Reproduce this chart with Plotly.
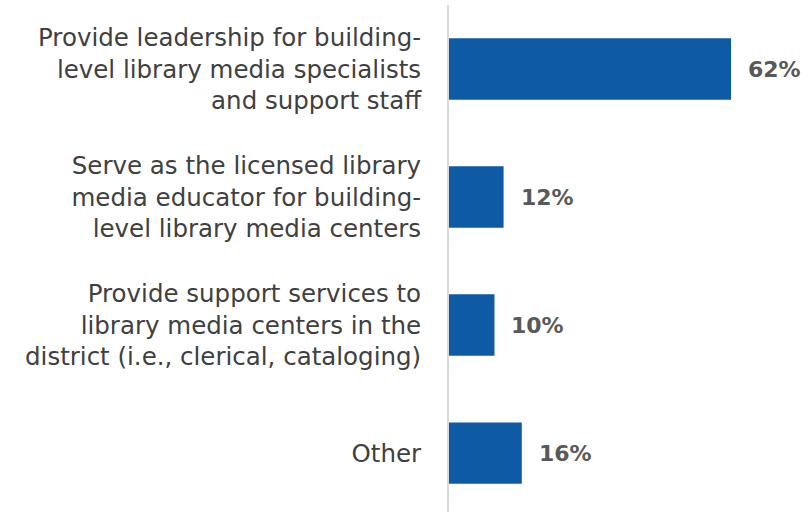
import plotly.graph_objects as go

categories = [
    "Provide leadership for building-<br>level library media specialists<br>and support staff",
    "Serve as the licensed library<br>media educator for building-<br>level library media centers",
    "Provide support services to<br>library media centers in the<br>district (i.e., clerical, cataloging)",
    "Other",
]
values = [62, 12, 10, 16]
value_labels = ["62%", "12%", "10%", "16%"]

fig = go.Figure()
fig.add_trace(go.Bar(
    x=values,
    y=categories,
    orientation="h",
    marker=dict(color="#0F5AA4", line=dict(width=0)),
    width=0.48,
    hoverinfo="skip",
))

for v, c, t in zip(values, categories, value_labels):
    fig.add_annotation(
        x=v, y=c, text="<b>%s</b>" % t, showarrow=False,
        xanchor="left", yanchor="middle", xshift=15,
        font=dict(family="DejaVu Sans", size=22, color="#595959"),
    )

fig.update_layout(
    width=802, height=512,
    margin=dict(l=449, r=0, t=5, b=0, autoexpand=False),
    paper_bgcolor="white", plot_bgcolor="white",
    showlegend=False,
    font=dict(family="DejaVu Sans", size=24, color="#404040"),
    xaxis=dict(range=[0, 77.6], visible=False, fixedrange=True, automargin=False),
    yaxis=dict(
        type="category",
        categoryorder="array", categoryarray=categories,
        range=[3.46, -0.5],
        showline=True, linecolor="#D9D9D9", linewidth=2,
        ticks="", ticklabelstandoff=21, automargin=False,
        showgrid=False, zeroline=False,
        tickfont=dict(family="DejaVu Sans", size=24.5, color="#404040"),
    ),
)

fig.write_html(
    "out.html",
    config={"displayModeBar": False},
    post_script="document.body.style.margin='0';document.body.style.overflow='hidden';",
)
